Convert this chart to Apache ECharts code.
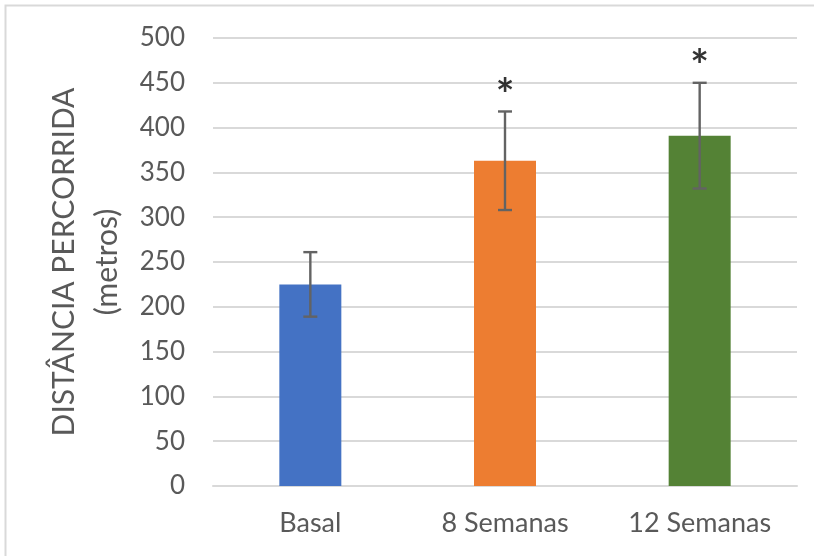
<!DOCTYPE html>
<html>
<head>
<meta charset="utf-8">
<script src="https://cdn.jsdelivr.net/npm/echarts@6/dist/echarts.min.js"></script>
<style>
  html, body { margin: 0; padding: 0; background: #fff; }
  #chart { width: 814px; height: 556px; }
</style>
</head>
<body>
<div id="chart"></div>
<script>
// Six-minute walk distance at each assessment point
const categories = ['Basal', '8 Semanas', '12 Semanas'];
const means = [225, 363, 391];
const errors = [36, 55, 59];
const significance = ['', '*', '*'];
const barColors = ['#4472C4', '#ED7D31', '#548235'];
const yTicks = { min: 0, max: 500, interval: 50 };

const FONT = 'Lato, "Open Sans", sans-serif';
const TEXT = '#595959';

const chart = echarts.init(document.getElementById('chart'));

const errorData = means.map((m, i) => [i, m - errors[i], m + errors[i]]);
const starData = means.map((m, i) => ({
  value: [i, m + errors[i]],
  label: { formatter: significance[i] }
}));

chart.setOption({
  animation: false,
  backgroundColor: '#fff',
  graphic: [{
    type: 'rect',
    shape: { x: 5.5, y: 5.5, width: 1000, height: 1000 },
    style: { fill: 'none', stroke: '#d9d9d9', lineWidth: 2 },
    silent: true
  }],
  grid: { left: 213, right: 17, top: 38, bottom: 70 },
  xAxis: {
    type: 'category',
    data: categories,
    axisLine: { show: true, lineStyle: { color: '#d9d9d9', width: 2 } },
    axisTick: { show: false },
    axisLabel: { color: TEXT, fontSize: 27, fontFamily: FONT, margin: 24 }
  },
  yAxis: {
    type: 'value',
    min: yTicks.min, max: yTicks.max, interval: yTicks.interval,
    name: 'DISTÂNCIA PERCORRIDA\n(metros)',
    nameLocation: 'middle',
    nameGap: 84,
    nameRotate: 90,
    nameTextStyle: { color: TEXT, fontSize: 30, fontFamily: FONT, lineHeight: 43 },
    axisLine: { show: false },
    axisTick: { show: false },
    axisLabel: { color: TEXT, fontSize: 26, fontFamily: FONT, margin: 28 },
    splitLine: { lineStyle: { color: '#d9d9d9', width: 2 } }
  },
  series: [
    {
      type: 'bar',
      data: means.map((v, i) => ({ value: v, itemStyle: { color: barColors[i] } })),
      barWidth: 62,
      z: 2
    },
    {
      type: 'custom',
      data: errorData,
      z: 5,
      renderItem: (params, api) => {
        const x = api.value(0);
        const lo = api.coord([x, api.value(1)]);
        const hi = api.coord([x, api.value(2)]);
        const half = 7;
        const style = { stroke: '#636363', lineWidth: 2.4 };
        return {
          type: 'group',
          children: [
            { type: 'line', shape: { x1: lo[0], y1: lo[1], x2: hi[0], y2: hi[1] }, style },
            { type: 'line', shape: { x1: hi[0] - half, y1: hi[1], x2: hi[0] + half, y2: hi[1] }, style },
            { type: 'line', shape: { x1: lo[0] - half, y1: lo[1], x2: lo[0] + half, y2: lo[1] }, style }
          ]
        };
      }
    },
    {
      type: 'scatter',
      data: starData,
      symbolSize: 0,
      z: 6,
      label: {
        show: true,
        position: 'inside',
        offset: [0, -16],
        color: '#000',
        fontSize: 44,
        fontWeight: 'bold',
        fontFamily: FONT
      }
    }
  ]
});
</script>
</body>
</html>
